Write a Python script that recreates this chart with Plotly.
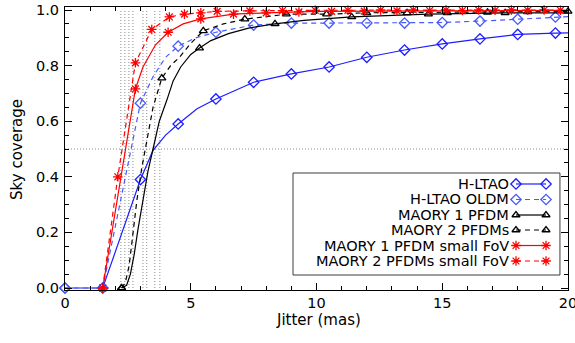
import plotly.graph_objects as go

# ---- Sky coverage vs. jitter curves ----
# H-LTAO
hltao_x = [0, 1.5, 3.0, 3.5, 4.0, 4.5, 5.25, 6.0, 7.5, 9.0, 10.5, 12.0, 13.5, 15.0, 16.5, 18.0, 19.5, 20.0]
hltao_y = [0, 0, 0.39, 0.495, 0.55, 0.59, 0.645, 0.68, 0.74, 0.77, 0.795, 0.83, 0.856, 0.878, 0.896, 0.912, 0.917, 0.918]
hltao_mx = [0, 1.5, 3.0, 4.5, 6.0, 7.5, 9.0, 10.5, 12.0, 13.5, 15.0, 16.5, 18.0, 19.5]
hltao_my = [0, 0, 0.39, 0.59, 0.68, 0.74, 0.77, 0.795, 0.83, 0.856, 0.878, 0.896, 0.912, 0.917]

# H-LTAO OLDM
oldm_x = [0, 1.5, 3.0, 3.5, 4.0, 4.5, 5.2, 6.0, 7.5, 9.0, 10.5, 12.0, 13.5, 15.0, 16.5, 18.0, 19.5, 20.0]
oldm_y = [0, 0, 0.665, 0.76, 0.83, 0.87, 0.90, 0.92, 0.946, 0.953, 0.953, 0.953, 0.953, 0.955, 0.96, 0.967, 0.975, 0.976]
oldm_mx = [0, 1.5, 3.0, 4.5, 6.0, 7.5, 9.0, 10.5, 12.0, 13.5, 15.0, 16.5, 18.0, 19.5]
oldm_my = [0, 0, 0.665, 0.87, 0.92, 0.946, 0.953, 0.953, 0.953, 0.953, 0.955, 0.96, 0.967, 0.975]

# MAORY 1 PFDM
m1_x = [2.25, 2.45, 2.6, 2.75, 2.9, 3.1, 3.3, 3.5, 3.75, 4.05, 4.3, 4.6, 5.0, 5.35, 5.8, 6.5, 7.3, 8.35, 9.5, 11.4, 14.45, 17.5, 20.0]
m1_y = [0, 0.01, 0.05, 0.12, 0.21, 0.317, 0.42, 0.5, 0.6, 0.676, 0.745, 0.795, 0.84, 0.863, 0.89, 0.915, 0.935, 0.95, 0.963, 0.975, 0.985, 0.99, 0.99]
m1_mx = [2.25, 5.35, 8.35, 11.4, 14.45, 17.5]
m1_my = [0, 0.863, 0.95, 0.975, 0.985, 0.99]

# MAORY 2 PFDMs
m2_x = [2.25, 2.4, 2.55, 2.7, 2.86, 3.05, 3.2, 3.5, 3.85, 4.2, 4.55, 5.0, 5.5, 6.3, 7.15, 8.0, 8.8, 10.4, 12.0, 20.0]
m2_y = [0, 0.02, 0.08, 0.2, 0.317, 0.43, 0.5, 0.65, 0.755, 0.8, 0.83, 0.88, 0.925, 0.95, 0.967, 0.977, 0.985, 0.985, 0.99, 0.995]
m2_mx = [2.25, 3.85, 5.5, 7.15, 8.8, 10.4, 12.0, 13.6, 15.2, 16.8, 18.4, 20.0]
m2_my = [0, 0.755, 0.925, 0.967, 0.985, 0.985, 0.99, 0.99, 0.99, 0.992, 0.993, 0.995]

# MAORY 1 PFDM small FoV
m1s_x = [1.5, 2.0, 2.4, 2.8, 3.1, 3.6, 4.1, 4.7, 5.4, 6.7, 8.0, 10.0, 20.0]
m1s_y = [0, 0.28, 0.5, 0.716, 0.795, 0.875, 0.92, 0.95, 0.968, 0.985, 0.99, 0.995, 0.999]
m1s_mx = [1.5, 2.8, 4.1, 5.4, 6.7, 8.0, 9.3, 10.6, 11.9, 13.2, 14.5, 15.8, 17.1, 18.4, 19.7]
m1s_my = [0, 0.716, 0.92, 0.968, 0.985, 0.99, 0.993, 0.995, 0.996, 0.997, 0.998, 0.998, 0.999, 0.999, 0.999]

# MAORY 2 PFDMs small FoV
m2s_x = [1.5, 2.1, 2.8, 3.45, 4.15, 4.75, 5.4, 6.05, 7.35, 10.0, 20.0]
m2s_y = [0, 0.40, 0.81, 0.93, 0.975, 0.985, 0.99, 0.995, 0.997, 0.999, 1.0]
m2s_mx = [1.5, 2.1, 2.8, 3.45, 4.15, 4.75, 5.4, 6.05, 7.35, 8.65, 9.95, 11.25, 12.55, 13.85, 15.15, 16.45, 17.75, 19.05]
m2s_my = [0, 0.40, 0.81, 0.93, 0.975, 0.985, 0.99, 0.995, 0.997, 0.998, 0.999, 0.999, 1.0, 1.0, 1.0, 1.0, 1.0, 1.0]

# Jitter values where the curves reach 50% coverage, and the 50% level
crossing_jitter = [2.22, 2.38, 2.54, 2.70, 3.10, 3.25, 3.57, 3.77]
half_coverage = 0.5

x_ticks = [0, 5, 10, 15, 20]
x_tick_labels = ["0", "5", "10", "15", "20"]
y_ticks = [0.0, 0.2, 0.4, 0.6, 0.8, 1.0]
y_tick_labels = ["0.0", "0.2", "0.4", "0.6", "0.8", "1.0"]

FONT = "DejaVu Sans"
BLUE = "rgb(30,30,255)"
LIGHT_BLUE = "rgb(70,90,255)"
RED = "rgb(255,0,0)"
BLACK = "rgb(0,0,0)"
DASH = "5px,4px"

series = [
    dict(name="H-LTAO", x=hltao_x, y=hltao_y, mx=hltao_mx, my=hltao_my,
         color=BLUE, dash="solid", symbol="diamond-open", size=8),
    dict(name="H-LTAO OLDM", x=oldm_x, y=oldm_y, mx=oldm_mx, my=oldm_my,
         color=LIGHT_BLUE, dash=DASH, symbol="diamond-open", size=8),
    dict(name="MAORY 1 PFDM", x=m1_x, y=m1_y, mx=m1_mx, my=m1_my,
         color=BLACK, dash="solid", symbol="triangle-up-open", size=7),
    dict(name="MAORY 2 PFDMs", x=m2_x, y=m2_y, mx=m2_mx, my=m2_my,
         color=BLACK, dash=DASH, symbol="triangle-up-open", size=7),
    dict(name="MAORY 1 PFDM small FoV", x=m1s_x, y=m1s_y, mx=m1s_mx, my=m1s_my,
         color=RED, dash="solid", symbol="asterisk-open", size=8),
    dict(name="MAORY 2 PFDMs small FoV", x=m2s_x, y=m2s_y, mx=m2s_mx, my=m2s_my,
         color=RED, dash=DASH, symbol="asterisk-open", size=8),
]

fig = go.Figure()

for s in series:
    fig.add_trace(go.Scatter(
        x=s["x"], y=s["y"], mode="lines", showlegend=False, hoverinfo="skip",
        line=dict(color=s["color"], width=1.2, dash=s["dash"]),
    ))
    fig.add_trace(go.Scatter(
        x=s["mx"], y=s["my"], mode="markers", name=s["name"], showlegend=False,
        marker=dict(symbol=s["symbol"], size=s["size"], color=s["color"],
                    line=dict(color=s["color"], width=1.3)),
        cliponaxis=False,
    ))

# Reference lines: 50% coverage and the jitter values reaching it
for xv in crossing_jitter:
    fig.add_shape(type="line", xref="x", yref="y", x0=xv, x1=xv, y0=0, y1=1,
                  line=dict(color="rgb(140,140,140)", width=1, dash="1px,2px"), layer="below")
fig.add_shape(type="line", xref="x", yref="y", x0=0, x1=20, y0=half_coverage, y1=half_coverage,
              line=dict(color="rgb(140,140,140)", width=1, dash="1px,2px"), layer="below")

# ---- Key box (text on the left, line sample with two symbols on the right) ----
key_box = dict(x0=0.4533, x1=0.984, y0=0.053, y1=0.4134)
key_text_x = 0.8867
key_sample_x = [0.8966, 0.9563]
key_rows = [0.3746, 0.3198, 0.265, 0.212, 0.1572, 0.1025]

fig.add_shape(type="rect", xref="paper", yref="paper", **key_box,
              line=dict(color="rgb(60,60,60)", width=1), fillcolor="white", layer="below")

for s, ry in zip(series, key_rows):
    fig.add_trace(go.Scatter(
        x=key_sample_x, y=[ry, ry], xaxis="x2", yaxis="y2", mode="lines+markers",
        showlegend=False, hoverinfo="skip", cliponaxis=False,
        line=dict(color=s["color"], width=1.2, dash=s["dash"]),
        marker=dict(symbol=s["symbol"], size=s["size"], color=s["color"],
                    line=dict(color=s["color"], width=1.3)),
    ))
    fig.add_annotation(xref="paper", yref="paper", x=key_text_x, y=ry,
                       xanchor="right", yanchor="middle", showarrow=False,
                       text=s["name"], font=dict(family=FONT, size=14.5, color="black"))

# Axis titles
fig.add_annotation(xref="paper", yref="paper", x=0.503, y=-0.106, xanchor="center",
                   yanchor="middle", showarrow=False, text="Jitter (mas)",
                   font=dict(family=FONT, size=15, color="black"))
fig.add_annotation(xref="paper", yref="paper", x=-0.0954, y=0.495, xanchor="center",
                   yanchor="middle", showarrow=False, text="Sky coverage", textangle=-90,
                   font=dict(family=FONT, size=15, color="black"))

axis_common = dict(
    showline=True, linecolor="black", linewidth=1, mirror="allticks",
    ticks="inside", ticklen=7, tickwidth=1, tickcolor="black",
    showgrid=False, zeroline=False, ticklabeloverflow="allow",
    tickfont=dict(family=FONT, size=14.5, color="black"),
)

fig.update_layout(
    width=575, height=343,
    margin=dict(l=65, r=7, t=7, b=53),
    paper_bgcolor="white", plot_bgcolor="white",
    template="none",
    showlegend=False,
    xaxis=dict(range=[0, 20], tickvals=x_ticks, ticktext=x_tick_labels,
               minor=dict(dtick=1, tick0=0, ticks="inside", ticklen=4, tickcolor="black", showgrid=False),
               **axis_common),
    yaxis=dict(range=[-0.0072, 1.0108], tickvals=y_ticks, ticktext=y_tick_labels,
               minor=dict(dtick=0.05, tick0=0, ticks="inside", ticklen=4, tickcolor="black", showgrid=False),
               ticklabelstandoff=2,
               **axis_common),
    xaxis2=dict(range=[0, 1], overlaying="x", visible=False),
    yaxis2=dict(range=[0, 1], overlaying="y", visible=False),
)

fig.write_html("out.html")
